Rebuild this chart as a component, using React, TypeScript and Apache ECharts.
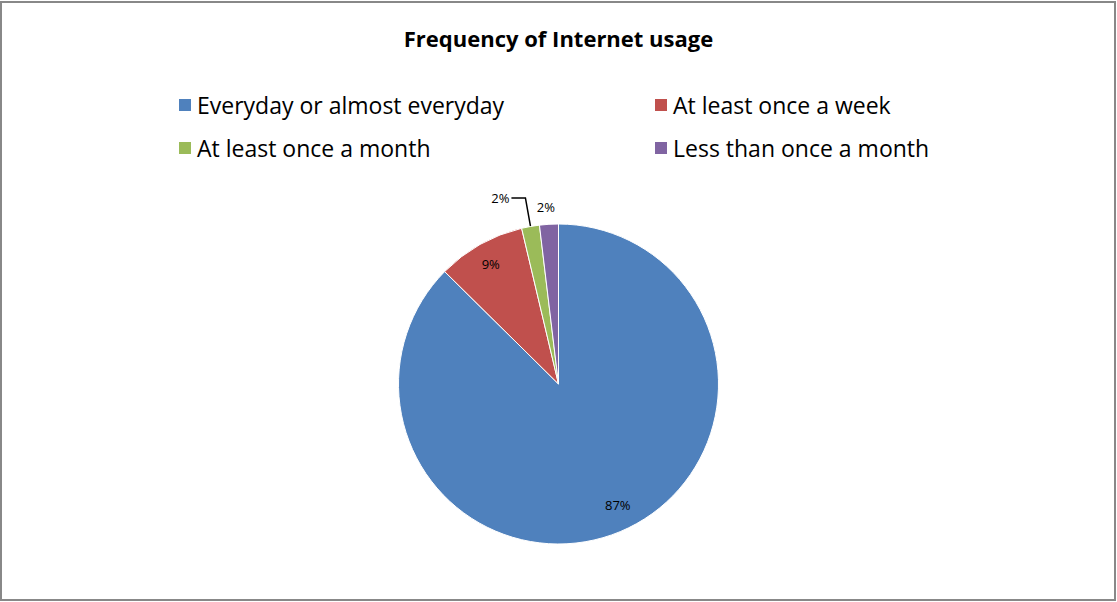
import React, { useEffect, useRef } from "react";
import * as echarts from "echarts";

const titleText = "Frequency of Internet usage";
const categories = [
  "Everyday or almost everyday",
  "At least once a week",
  "At least once a month",
  "Less than once a month",
];
const values = [87.4, 8.9, 1.8, 1.9];
const colors = ["#4F81BD", "#C0504D", "#9BBB59", "#8064A2"];
const insideLabelIdx = [0, 1];

const fmt = (p: any) => Math.round(p.value) + "%";

export default function App() {
  const ref = useRef<HTMLDivElement>(null);
  useEffect(() => {
    if (!ref.current) return;
    const chart = echarts.init(ref.current, undefined, { renderer: "svg" });
    const cx = 558.5;
    const cy = 384;
    const r = 160;
    const legendText = {
      fontFamily: "'Open Sans', sans-serif",
      fontSize: 23,
      color: "#000",
      lineHeight: 26,
    };
    const legendBase = {
      orient: "vertical",
      top: 92,
      padding: 0,
      itemWidth: 14,
      itemHeight: 14,
      itemGap: 17,
      itemTextGap: 7,
      icon: "rect",
      textStyle: legendText,
    };
    const mainData = categories.map((name, i) => {
      const inside = insideLabelIdx.includes(i);
      return {
        name,
        value: values[i],
        itemStyle: { color: colors[i] },
        label: { show: !inside },
        labelLine:
          i === 2
            ? { show: true, length: 29, length2: 14 }
            : { show: false, length: 16, length2: 0 },
      };
    });
    const overlayData = categories.map((name, i) => ({
      name,
      value: values[i],
      itemStyle: { color: "rgba(0,0,0,0)" },
      label: { show: insideLabelIdx.includes(i) },
    }));
    chart.setOption({
      animation: false,
      title: {
        text: titleText,
        left: "center",
        top: 22,
        textStyle: {
          fontFamily: "'Open Sans', sans-serif",
          fontSize: 22,
          fontWeight: "bold",
          color: "#000",
        },
      },
      legend: [
        { ...legendBase, left: 177, data: [categories[0], categories[2]] },
        { ...legendBase, left: 653, data: [categories[1], categories[3]] },
      ],
      series: [
        {
          type: "pie",
          center: [cx, cy],
          radius: [0, r],
          startAngle: 90,
          clockwise: true,
          avoidLabelOverlap: false,
          silent: true,
          itemStyle: { borderColor: "#fff", borderWidth: 1 },
          label: {
            position: "outside",
            formatter: fmt,
            fontFamily: "'Open Sans', sans-serif",
            fontSize: 13,
            color: "#000",
            distanceToLabelLine: 2,
          },
          labelLine: { lineStyle: { color: "#000", width: 1.5 }, smooth: false },
          labelLayout: (p: any) => (p.dataIndex === 3 ? { dx: 9, dy: -1 } : {}),
          emphasis: { disabled: true },
          data: mainData,
        },
        {
          type: "pie",
          center: [cx, cy],
          radius: [0, 2 * 0.845 * r],
          startAngle: 90,
          clockwise: true,
          avoidLabelOverlap: false,
          silent: true,
          label: {
            position: "inside",
            formatter: fmt,
            fontFamily: "'Open Sans', sans-serif",
            fontSize: 13,
            color: "#000",
          },
          labelLine: { show: false },
          labelLayout: (p: any) => (p.dataIndex === 0 ? { dx: 6, dy: -7 } : {}),
          emphasis: { disabled: true },
          data: overlayData,
        },
      ],
      graphic: [
        {
          type: "rect",
          shape: { x: 1, y: 2, width: 1114, height: 598 },
          style: { fill: "none", stroke: "#888", lineWidth: 2 },
          silent: true,
        },
      ],
    });
    return () => chart.dispose();
  }, []);
  return (
    <div
      ref={ref}
      style={{ position: "fixed", left: 0, top: 0, width: 1117, height: 602, background: "#fff" }}
    />
  );
}
